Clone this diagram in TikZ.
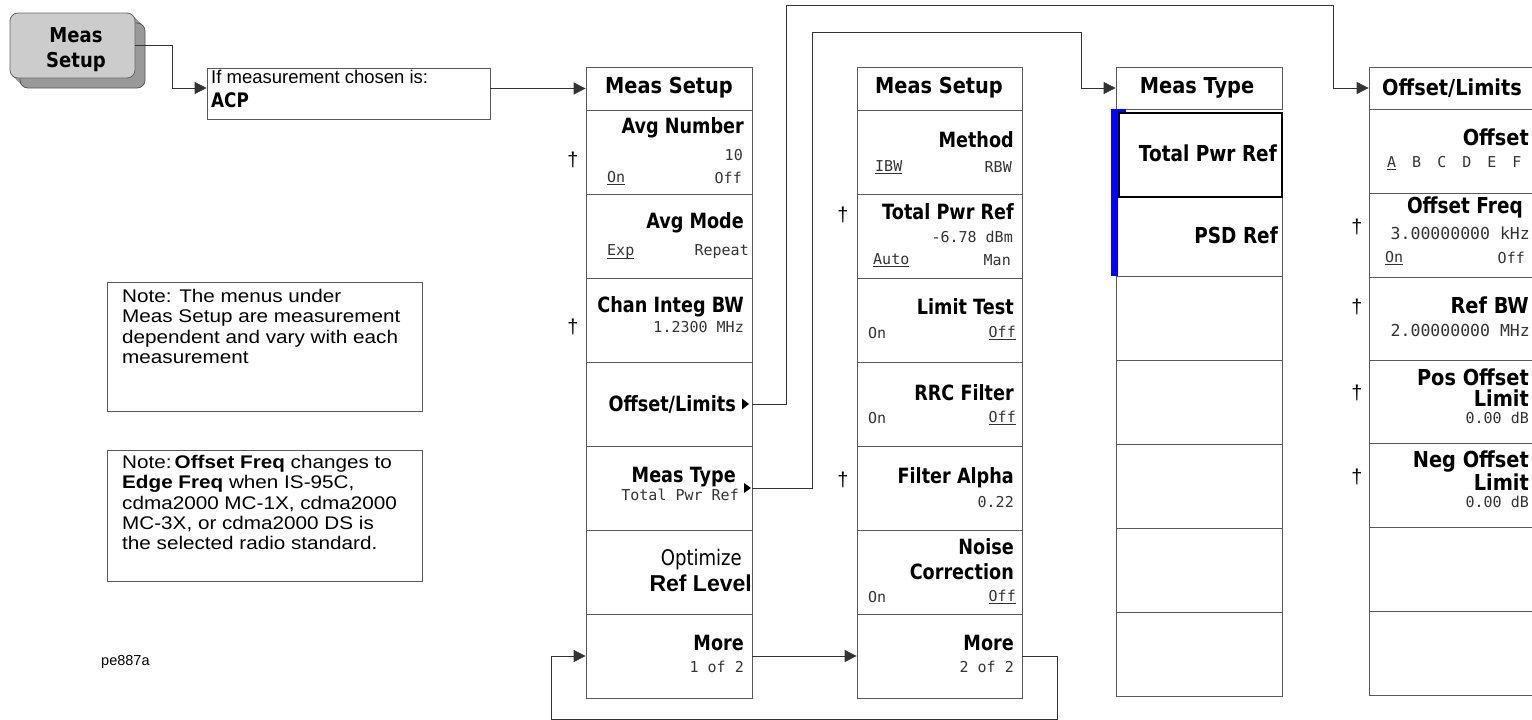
\documentclass[tikz,border=0pt]{standalone}
\usepackage{fontspec}
\usetikzlibrary{arrows.meta,fit}
\newfontfamily\lblf[FakeStretch=0.84]{DejaVu Sans}
\newfontfamily\ttlf[FakeStretch=0.88]{DejaVu Sans}
\newfontfamily\valf{DejaVu Sans Mono}
\newfontfamily\arialf{Liberation Sans}
\newfontfamily\notef[FakeStretch=1.13]{Liberation Sans}
\newcommand\uln[1]{\setbox0\hbox{#1}\rlap{\rule[-2.8pt]{\wd0}{1.1pt}}\box0}
\tikzset{
  lbl/.style={inner sep=0pt, font=\lblf\bfseries\fontsize{21}{23}\selectfont},
  lblb/.style={inner sep=0pt, font=\lblf\bfseries\fontsize{22}{24}\selectfont},
  ttl/.style={inner sep=0pt, font=\ttlf\bfseries\fontsize{22}{24}\selectfont},
  lblr/.style={inner sep=0pt, font=\lblf\fontsize{21.5}{23}\selectfont},
  val/.style={inner sep=0pt, font=\valf\fontsize{15}{17}\selectfont, text=black!80},
  valw/.style={val, font=\valf\fontsize{16.5}{18}\selectfont},
  rowbox/.style={draw=black!65, line width=0.8pt, inner sep=0pt},
  conn/.style={draw=black!80, line width=0.8pt},
  arr/.style={conn, -{Triangle[length=12pt,width=12pt]}},
  dag/.style={inner sep=0pt, font=\arialf\fontsize{20}{22}\selectfont},
  notebox/.style={draw=black!65, line width=0.8pt, inner sep=0pt},
  notetxt/.style={inner sep=0pt, anchor=north west, align=left, font=\notef\fontsize{18.3}{20.3}\selectfont},
}
\begin{document}
\begin{tikzpicture}[x=1pt,y=-1pt]
\useasboundingbox[fill=white] (0,0) rectangle (1532,720);
\clip (0,0) rectangle (1532,720);

% --- hardkey button
\foreach \d in {1,...,10}
  \fill[gray!80, rounded corners=8pt] (10+\d,13+\d) rectangle (135+\d,78+\d);
\draw[black!65, line width=0.8pt, rounded corners=8pt] (20,23) rectangle (145,88);
\node[draw=black!60, line width=0.8pt, fill=gray!40, rounded corners=8pt, minimum width=125pt, minimum height=65pt, inner sep=0pt] (btn) at (72.5,45.5) {};
\node[inner sep=0pt, align=center, font=\ttlf\bfseries\fontsize{20.5}{25}\selectfont] (btnt) at (76,50) {Meas\\Setup};

% --- condition box
\node[notebox, fit={(207,68) (490,119)}] (ifbox) {};
\node[inner sep=0pt, anchor=west, font=\arialf\fontsize{18.5}{20}\selectfont] (ift) at (211,77) {If measurement chosen is:};
\node[inner sep=0pt, anchor=west, font=\lblf\bfseries\fontsize{20}{22}\selectfont] (acp) at (211,100) {ACP};

% --- notes
\node[notebox, fit={(107,282) (422,411)}] (note1) {};
\node[notetxt] (note1t) at (122,289) {Note: The menus\ under\\Meas Setup are measurement\\dependent and vary with each\\measurement};
\node[notebox, fit={(107,450) (422,581)}] (note2) {};
\node[notetxt] (note2t) at (122,455) {Note:\,\textbf{Offset Freq} changes to\\\textbf{Edge Freq} when IS-95C,\\cdma2000 MC-1X, cdma2000\\MC-3X, or cdma2000 DS is\\the selected radio standard.};
\node[inner sep=0pt, anchor=west, font=\arialf\fontsize{14.5}{16}\selectfont] (pe) at (101,662) {pe887a};

% --- menu 1
\node[rowbox, fit={(586,67) (752,110)}] (m1t) {};
\node[rowbox, fit={(586,110) (752,194)}] (m1a) {};
\node[rowbox, fit={(586,194) (752,278)}] (m1b) {};
\node[rowbox, fit={(586,278) (752,362)}] (m1c) {};
\node[rowbox, fit={(586,362) (752,446)}] (m1d) {};
\node[rowbox, fit={(586,446) (752,530)}] (m1e) {};
\node[rowbox, fit={(586,530) (752,614)}] (m1f) {};
\node[rowbox, fit={(586,614) (752,698)}] (m1g) {};
\node[ttl] at (669,88) {Meas Setup};
\node[lbl, anchor=east] at (744,128) {Avg Number};
\node[val, anchor=east] at (743,155) {10};
\node[val, anchor=west] at (607,178) {\uln{On}};
\node[val, anchor=east] at (742,178) {Off};
\node[lbl, anchor=east] at (744,223) {Avg Mode};
\node[val, anchor=west] at (607,252) {\uln{Exp}};
\node[val, anchor=east] at (749,252) {Repeat};
\node[lbl, anchor=east] at (744,307) {Chan Integ BW};
\node[val, anchor=east] at (744,327) {1.2300 MHz};
\node[lbl, anchor=east] at (736,404) {Offset/Limits};
\fill (742,398.5) -- (749,404) -- (742,409.5) -- cycle;
\node[lbl, anchor=east] at (736,477) {Meas Type};
\node[val, anchor=east] at (739,495) {Total Pwr Ref};
\fill (744,483) -- (751,488) -- (744,493) -- cycle;
\node[lblr, anchor=east] at (742,560) {Optimize};
\node[inner sep=0pt, anchor=east, font=\arialf\bfseries\fontsize{23}{25}\selectfont] at (752,583) {Ref Level};
\node[lbl, anchor=east] at (744,643) {More};
\node[val, anchor=east] at (744,667) {1 of 2};
\node[dag] at (573,160) {†};
\node[dag] at (573,327) {†};

% --- menu 2
\node[rowbox, fit={(857,67) (1022,110)}] (m2t) {};
\node[rowbox, fit={(857,110) (1022,194)}] (m2a) {};
\node[rowbox, fit={(857,194) (1022,278)}] (m2b) {};
\node[rowbox, fit={(857,278) (1022,362)}] (m2c) {};
\node[rowbox, fit={(857,362) (1022,446)}] (m2d) {};
\node[rowbox, fit={(857,446) (1022,530)}] (m2e) {};
\node[rowbox, fit={(857,530) (1022,614)}] (m2f) {};
\node[rowbox, fit={(857,614) (1022,698)}] (m2g) {};
\node[ttl] at (939,88) {Meas Setup};
\node[lbl, anchor=east] at (1014,140) {Method};
\node[val, anchor=west] at (875,167) {\uln{IBW}};
\node[val, anchor=east] at (1012,167) {RBW};
\node[lbl, anchor=east] at (1014,212) {Total Pwr Ref};
\node[val, anchor=east] at (1013,237) {-6.78 dBm};
\node[val, anchor=west] at (873,260) {\uln{Auto}};
\node[val, anchor=east] at (1011,260) {Man};
\node[lbl, anchor=east] at (1014,307) {Limit Test};
\node[val, anchor=west] at (868,333) {On};
\node[val, anchor=east] at (1016,333) {\uln{Off}};
\node[lbl, anchor=east] at (1014,393) {RRC Filter};
\node[val, anchor=west] at (868,418) {On};
\node[val, anchor=east] at (1016,418) {\uln{Off}};
\node[lbl, anchor=east] at (1014,478) {Filter Alpha};
\node[val, anchor=east] at (1014,502) {0.22};
\node[lbl, anchor=east] at (1014,547) {Noise};
\node[lbl, anchor=east] at (1014,572) {Correction};
\node[val, anchor=west] at (868,597) {On};
\node[val, anchor=east] at (1016,597) {\uln{Off}};
\node[lbl, anchor=east] at (1014,643) {More};
\node[val, anchor=east] at (1014,667) {2 of 2};
\node[dag] at (843,215) {†};
\node[dag] at (843,480) {†};

% --- menu 3
\node[rowbox, fit={(1116,67) (1282,109)}] (m3t) {};
\node[rowbox, fit={(1116,197) (1282,276)}] (m3b) {};
\node[rowbox, fit={(1116,276) (1282,360)}] (m3c) {};
\node[rowbox, fit={(1116,360) (1282,444)}] (m3d) {};
\node[rowbox, fit={(1116,444) (1282,528)}] (m3e) {};
\node[rowbox, fit={(1116,528) (1282,612)}] (m3f) {};
\node[rowbox, fit={(1116,612) (1282,696)}] (m3g) {};
\node[draw=black, line width=2pt, inner sep=0pt, fit={(1119,113) (1282,197)}] (m3a) {};
\fill[blue] (1111,109) rectangle (1118,276);
\fill[blue] (1111,109) rectangle (1126,112);
\node[ttl] at (1197,88) {Meas Type};
\node[lblb, anchor=east] at (1277,153) {Total Pwr Ref};
\node[lblb, anchor=east] at (1278,235) {PSD Ref};

% --- menu 4
\node[rowbox, fit={(1369,67) (1545,109)}] (m4t) {};
\node[rowbox, fit={(1369,109) (1545,193)}] (m4a) {};
\node[rowbox, fit={(1369,193) (1545,277)}] (m4b) {};
\node[rowbox, fit={(1369,277) (1545,360)}] (m4c) {};
\node[rowbox, fit={(1369,360) (1545,443)}] (m4d) {};
\node[rowbox, fit={(1369,443) (1545,527)}] (m4e) {};
\node[rowbox, fit={(1369,527) (1545,611)}] (m4f) {};
\node[rowbox, fit={(1369,611) (1545,695)}] (m4g) {};
\node[ttl] at (1452,88) {Offset/Limits};
\node[ttl, anchor=east] at (1529,137) {Offset};
\node[val, anchor=west] at (1387,163) {\uln{A}\hspace{16pt}B\hspace{16pt}C\hspace{16pt}D\hspace{16pt}E\hspace{16pt}F};
\node[lblb, anchor=east] at (1523,207) {Offset Freq};
\node[valw, anchor=east] at (1530,233) {3.00000000 kHz};
\node[val, anchor=west] at (1385,258) {\uln{On}};
\node[val, anchor=east] at (1525,258) {Off};
\node[ttl, anchor=east] at (1529,305) {Ref BW};
\node[valw, anchor=east] at (1530,330) {2.00000000 MHz};
\node[ttl, anchor=east] at (1529,377) {Pos Offset};
\node[ttl, anchor=east] at (1529,398) {Limit};
\node[val, anchor=east] at (1529,418) {0.00 dB};
\node[ttl, anchor=east] at (1529,462) {Neg Offset};
\node[ttl, anchor=east] at (1529,482) {Limit};
\node[val, anchor=east] at (1529,502) {0.00 dB};
\node[dag] at (1357,227) {†};
\node[dag] at (1357,307) {†};
\node[dag] at (1357,393) {†};
\node[dag] at (1357,477) {†};

% --- connectors
\coordinate (c1) at (172,88);
\draw[arr] (btn.east) -| (c1) -- (ifbox.west |- c1);
\draw[arr] (ifbox.east |- m1t) -- (m1t.west);
\coordinate (oA) at (786,5);
\coordinate (oB) at (1333,5);
\draw[arr] (m1d.east) -| (oA) -- (oB) |- (m4t.west);
\coordinate (tA) at (812,32);
\coordinate (tB) at (1081,32);
\draw[arr] (m1e.east) -| (tA) -- (tB) |- (m3t.west);
\draw[arr] (m1g.east) -- (m2g.west);
\coordinate (lp1) at (1057,719);
\coordinate (lp2) at (551,719);
\draw[arr] (m2g.east) -| (lp1) -- (lp2) |- (m1g.west);
\end{tikzpicture}
\end{document}
